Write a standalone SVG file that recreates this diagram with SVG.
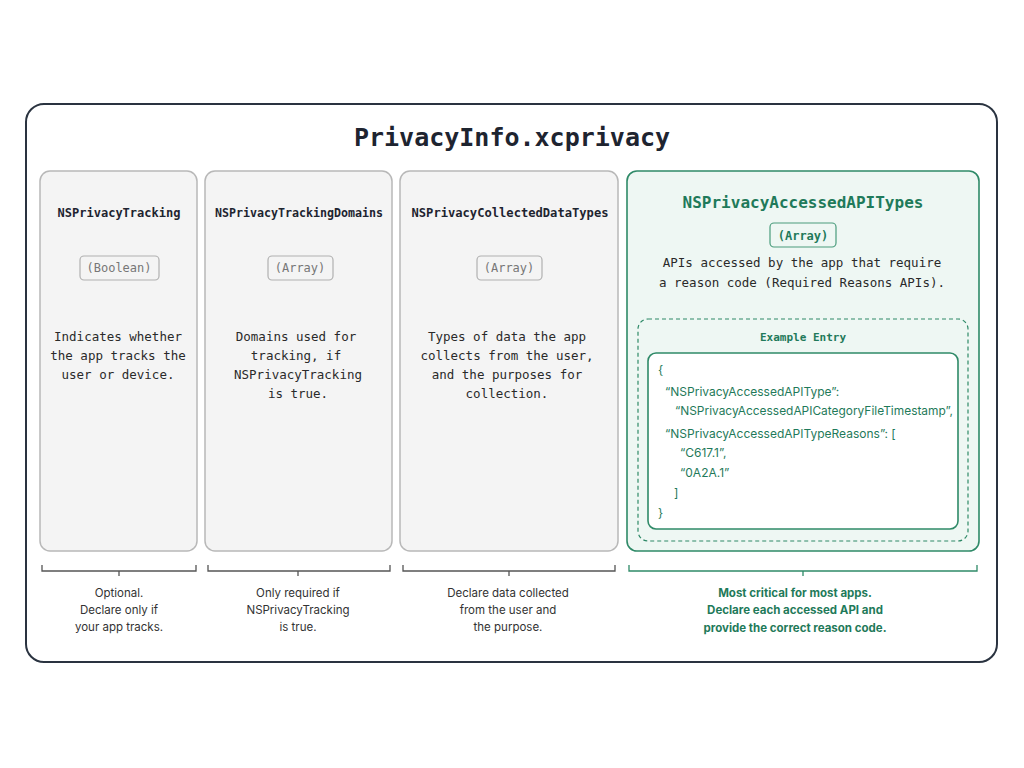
<svg xmlns="http://www.w3.org/2000/svg" width="1024" height="768" viewBox="0 0 1024 768">
<style>
.mono{font-family:"DejaVu Sans Mono","Liberation Mono",monospace}
.sans{font-family:"Inter","Liberation Sans",sans-serif}
.col{fill:#f4f4f4;stroke:#b8b8b8;stroke-width:1.5}
.h{font-size:12px;font-weight:bold;fill:#1e2430;text-anchor:middle}
.tag{fill:#f4f4f4;stroke:#b0b0b0;stroke-width:1.2}
.tagt{font-size:12px;fill:#777;text-anchor:middle}
.d{font-size:12.5px;fill:#2a2a2a;text-anchor:middle}
.n{font-size:11.5px;fill:#333;text-anchor:middle}
.ng{font-size:11.5px;fill:#1f7a5a;font-weight:bold;text-anchor:middle}
.br{fill:none;stroke:#555;stroke-width:1.3}
.code{font-size:12px;fill:#1f7a5a;font-family:"Inter","Liberation Sans",sans-serif}
</style>
<rect x="0" y="0" width="1024" height="768" fill="#ffffff"/>
<rect x="26" y="104" width="971" height="558" rx="18" fill="#fff" stroke="#2a3340" stroke-width="2"/>
<text x="512" y="146" class="mono" font-size="25" font-weight="bold" fill="#1e2430" text-anchor="middle">PrivacyInfo.xcprivacy</text>
<g id="tracking">
<rect class="col" x="40" y="171" width="157" height="380" rx="10"/>
<text class="mono h" x="119" y="217">NSPrivacyTracking</text>
<rect class="tag" x="80" y="256" width="79" height="24" rx="4"/>
<text class="mono tagt" x="119" y="272">(Boolean)</text>
<text class="mono d" x="118" y="341">Indicates whether</text>
<text class="mono d" x="118" y="360">the app tracks the</text>
<text class="mono d" x="118" y="379">user or device.</text>
</g>
<g id="domains">
<rect class="col" x="205" y="171" width="187" height="380" rx="10"/>
<text class="mono h" x="299" y="217" textLength="168" lengthAdjust="spacingAndGlyphs">NSPrivacyTrackingDomains</text>
<rect class="tag" x="268" y="256" width="65" height="24" rx="4"/>
<text class="mono tagt" x="300" y="272">(Array)</text>
<text class="mono d" x="296" y="341">Domains used for</text>
<text class="mono d" x="296" y="360">tracking, if</text>
<text class="mono d" x="298" y="379">NSPrivacyTracking</text>
<text class="mono d" x="298" y="398">is true.</text>
</g>
<g id="collected">
<rect class="col" x="400" y="171" width="218" height="380" rx="10"/>
<text class="mono h" x="510" y="217" textLength="197" lengthAdjust="spacingAndGlyphs">NSPrivacyCollectedDataTypes</text>
<rect class="tag" x="477" y="256" width="65" height="24" rx="4"/>
<text class="mono tagt" x="509" y="272">(Array)</text>
<text class="mono d" x="507" y="341">Types of data the app</text>
<text class="mono d" x="507" y="360">collects from the user,</text>
<text class="mono d" x="507" y="379">and the purposes for</text>
<text class="mono d" x="507" y="398">collection.</text>
</g>
<g id="accessed">
<rect x="627" y="171" width="352" height="380" rx="10" fill="#eef7f3" stroke="#2f8a68" stroke-width="1.6"/>
<text class="mono" x="803" y="208" font-size="16" font-weight="bold" fill="#1f7a5a" text-anchor="middle">NSPrivacyAccessedAPITypes</text>
<rect x="770" y="223" width="66" height="24" rx="4" fill="#eef7f3" stroke="#4a9c7c" stroke-width="1.2"/>
<text class="mono" x="803" y="240" font-size="12" font-weight="bold" fill="#1f7a5a" text-anchor="middle">(Array)</text>
<text class="mono d" x="802" y="267">APIs accessed by the app that require</text>
<text class="mono d" x="802" y="287">a reason code (Required Reasons APIs).</text>
<rect x="638" y="319" width="330" height="222" rx="10" fill="none" stroke="#2f8a68" stroke-width="1.2" stroke-dasharray="4 3"/>
<text class="mono" x="803" y="341" font-size="11" font-weight="bold" fill="#1f7a5a" text-anchor="middle">Example Entry</text>
<rect x="648" y="353" width="310" height="176" rx="8" fill="#fff" stroke="#2f8a68" stroke-width="1.6"/>
<text class="code" x="658" y="374">{</text>
<text class="code" x="665" y="396">“NSPrivacyAccessedAPIType”:</text>
<text class="code" x="675" y="415" textLength="278" lengthAdjust="spacingAndGlyphs">“NSPrivacyAccessedAPICategoryFileTimestamp”,</text>
<text class="code" x="665" y="438">“NSPrivacyAccessedAPITypeReasons”: [</text>
<text class="code" x="680" y="457">“C617.1”,</text>
<text class="code" x="680" y="477">“0A2A.1”</text>
<text class="code" x="674" y="497">]</text>
<text class="code" x="658" y="517">}</text>
</g>
<g id="connectors">
<path class="br" d="M42 565 v6 h154 v-6 M119 571 v5"/>
<path class="br" d="M208 565 v6 h182 v-6 M298 571 v5"/>
<path class="br" d="M403 565 v6 h212 v-6 M509 571 v5"/>
<path d="M629 565 v6 h348 v-6 M803 571 v5" fill="none" stroke="#2f8a68" stroke-width="1.3"/>
</g>
<g id="notes">
<text class="sans n" x="119" y="597">Optional.</text>
<text class="sans n" x="119" y="614">Declare only if</text>
<text class="sans n" x="119" y="631">your app tracks.</text>
<text class="sans n" x="298" y="597">Only required if</text>
<text class="sans n" x="298" y="614">NSPrivacyTracking</text>
<text class="sans n" x="298" y="631">is true.</text>
<text class="sans n" x="508" y="597">Declare data collected</text>
<text class="sans n" x="508" y="614">from the user and</text>
<text class="sans n" x="508" y="631">the purpose.</text>
<text class="sans ng" x="795" y="597">Most critical for most apps.</text>
<text class="sans ng" x="795" y="614">Declare each accessed API and</text>
<text class="sans ng" x="795" y="632">provide the correct reason code.</text>
</g>
</svg>
